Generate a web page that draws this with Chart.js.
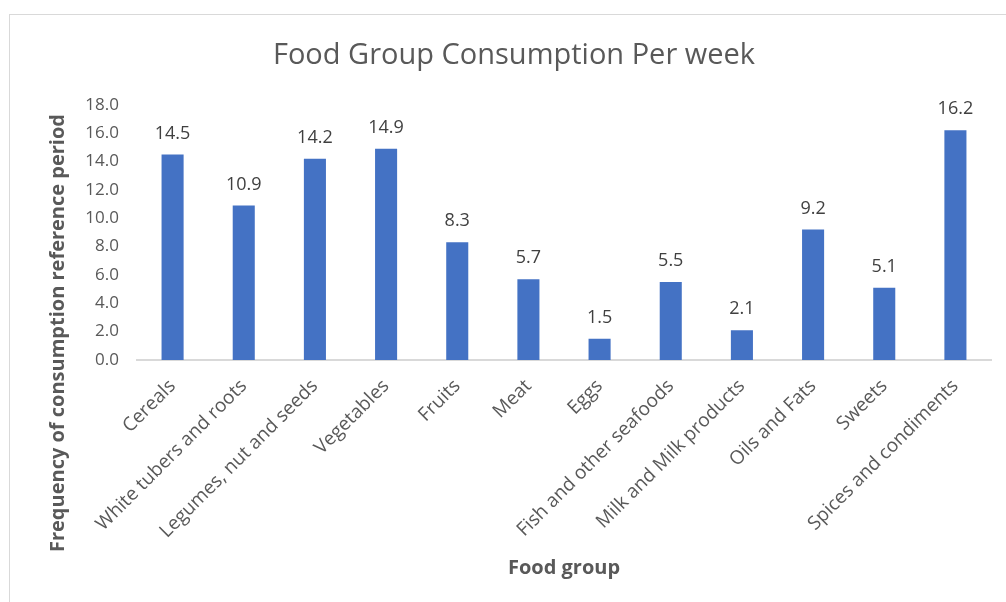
<!DOCTYPE html>
<html>
<head>
<meta charset="utf-8">
<script src="https://cdn.jsdelivr.net/npm/chart.js@4/dist/chart.umd.min.js"></script>
<style>
  html, body { margin: 0; padding: 0; background: #fff; }
  body { width: 1006px; height: 602px; position: relative; overflow: hidden; }
  #frame { position: absolute; left: 9px; top: 14px; width: 1100px; height: 700px; border: 1px solid #d9d9d9; box-sizing: border-box; }
  #wrap { position: absolute; left: 0; top: 0; width: 1006px; height: 602px; }
</style>
</head>
<body>
<div id="frame"></div>
<div id="wrap"><canvas id="c" width="1006" height="602"></canvas></div>
<script>
const chartTitle = "Food Group Consumption Per week";
const xAxisTitle = "Food group";
const yAxisTitle = "Frequency of consumption reference period";
const categories = ["Cereals", "White tubers and roots", "Legumes, nut and seeds", "Vegetables", "Fruits", "Meat", "Eggs", "Fish and other seafoods", "Milk and Milk products", "Oils and Fats", "Sweets", "Spices and condiments"];
const values = [14.5, 10.9, 14.2, 14.9, 8.3, 5.7, 1.5, 5.5, 2.1, 9.2, 5.1, 16.2];
const yMin = 0, yMax = 18, yStep = 2;

const FONT = "'Open Sans', sans-serif";

const valueLabels = {
  id: 'valueLabels',
  afterDatasetsDraw(chart) {
    const ctx = chart.ctx;
    const meta = chart.getDatasetMeta(0);
    ctx.save();
    ctx.font = "18px " + FONT;
    ctx.fillStyle = '#404040';
    ctx.textAlign = 'center';
    ctx.textBaseline = 'middle';
    meta.data.forEach((bar, i) => {
      ctx.fillText(values[i].toFixed(1), bar.x, bar.y - 21);
    });
    ctx.restore();
  }
};

const yTitle = {
  id: 'yTitle',
  afterDraw(chart) {
    const ctx = chart.ctx;
    ctx.save();
    ctx.font = "bold 20px " + FONT;
    ctx.fillStyle = '#595959';
    ctx.textAlign = 'center';
    ctx.textBaseline = 'middle';
    ctx.translate(58, 333);
    ctx.rotate(-Math.PI / 2);
    ctx.fillText(yAxisTitle, 0, 0);
    ctx.restore();
  }
};

new Chart(document.getElementById('c'), {
  type: 'bar',
  data: {
    labels: categories,
    datasets: [{
      data: values,
      backgroundColor: '#4472C4',
      borderWidth: 0,
      categoryPercentage: 1.0,
      barPercentage: 0.31
    }]
  },
  options: {
    responsive: false,
    animation: false,
    layout: { padding: { left: 37, right: 15, top: 0, bottom: 0 } },
    plugins: {
      legend: { display: false },
      tooltip: { enabled: false },
      title: {
        display: true,
        text: chartTitle,
        color: '#595959',
        font: { family: FONT, size: 29, weight: 'normal' },
        padding: { top: 38, bottom: 32 }
      }
    },
    scales: {
      x: {
        grid: { display: false, drawTicks: false },
        border: { display: true, color: '#d9d9d9', width: 2 },
        ticks: {
          color: '#595959',
          font: { family: FONT, size: 19 },
          maxRotation: 45, minRotation: 45,
          padding: 15,
          autoSkip: false
        },
        title: {
          display: true,
          text: xAxisTitle,
          color: '#595959',
          font: { family: FONT, size: 20, weight: 'bold' },
          padding: { top: 0, bottom: 22 }
        },
        afterFit(scale) { scale.height = 242; }
      },
      y: {
        min: yMin, max: yMax,
        grid: { display: false, drawTicks: false },
        border: { display: false },
        ticks: {
          stepSize: yStep,
          color: '#595959',
          font: { family: FONT, size: 17 },
          padding: 18,
          callback: v => Number(v).toFixed(1)
        },
        afterFit(scale) { scale.width = 100; }
      }
    }
  },
  plugins: [valueLabels, yTitle]
});
</script>
</body>
</html>
